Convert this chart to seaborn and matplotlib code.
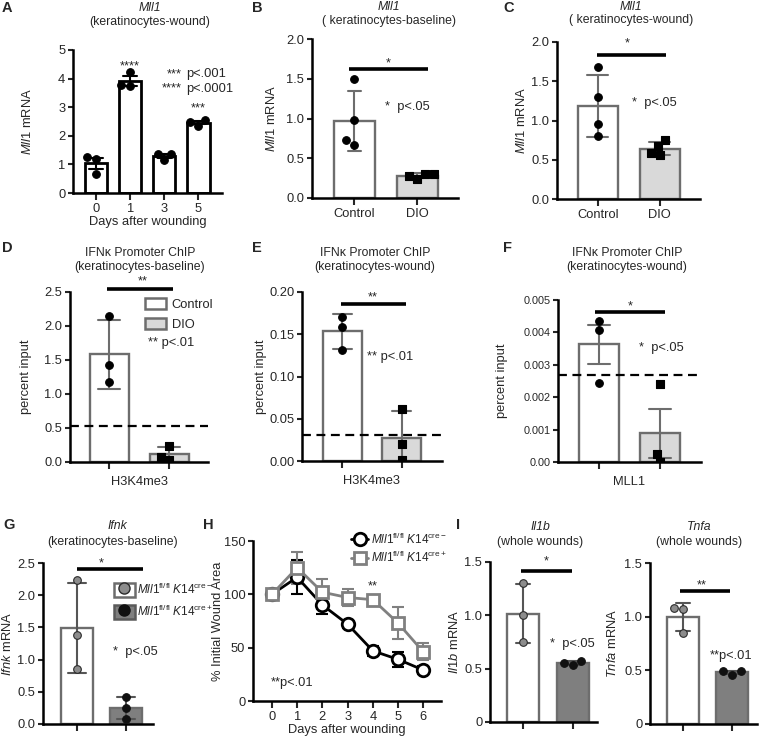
import numpy as np
import pandas as pd
import matplotlib
matplotlib.use("Agg")
import matplotlib.pyplot as plt
import matplotlib.transforms as mtransforms
from matplotlib.patches import Patch
from matplotlib.lines import Line2D
from matplotlib.legend_handler import HandlerTuple
import seaborn as sns

# ---------------- data ----------------
a_days = ["0", "1", "3", "5"]
a_values = [[1.26, 1.20, 0.65], [4.24, 3.74, 3.76], [1.15, 1.36, 1.36], [2.34, 2.55, 2.49]]
a_stars = ["", "****", "", "***"]

groups = ["Control", "DIO"]
b_control = [1.50, 0.98, 0.67, 0.73]
b_dio = [0.24, 0.30, 0.28, 0.30]
c_control = [1.68, 1.30, 0.95, 0.80]
c_dio = [0.75, 0.67, 0.56, 0.59]
d_control = [2.15, 1.43, 1.17]
d_dio = [0.24, 0.03, 0.08]
d_cutoff = 0.53
e_control = [0.171, 0.158, 0.131]
e_dio = [0.062, 0.020, 0.001]
e_cutoff = 0.031
f_control = [0.00435, 0.00408, 0.00245]
f_dio = [0.0024, 0.00025, 0.0]
f_cutoff = 0.0027

genotypes = ["cre-", "cre+"]
g_neg = [2.23, 1.38, 0.85]
g_pos = [0.42, 0.25, 0.08]
il1b_neg = [1.30, 1.00, 0.75]
il1b_pos = [0.57, 0.53, 0.55]
tnfa_neg = [1.08, 1.07, 0.85]
tnfa_pos = [0.46, 0.49, 0.49]

h_days = [0, 1, 2, 3, 4, 5, 6]
h_neg_mean = [100, 116, 90, 72, 47, 39, 29]
h_neg_err = [0, 16, 8, 4, 5, 7, 4]
h_pos_mean = [100, 125, 102, 97, 95, 73, 46]
h_pos_err = [0, 15, 12, 8, 3, 15, 8]

a_yticks = [0, 1, 2, 3, 4, 5]
f_yticks = [0, 0.001, 0.002, 0.003, 0.004, 0.005]
f_yticklabels = ["0.00", "0.001", "0.002", "0.003", "0.004", "0.005"]
i_yticks = [0, 0.5, 1.0, 1.5]
i_yticklabels = ["0", "0.5", "1.0", "1.5"]
h_yticks = [0, 50, 100, 150]

lbl_neg = r"$\mathit{Mll1}^{\mathrm{fl/fl}}\ \mathit{K14}^{\mathrm{cre-}}$"
lbl_pos = r"$\mathit{Mll1}^{\mathrm{fl/fl}}\ \mathit{K14}^{\mathrm{cre+}}$"

# ---------------- style ----------------
sns.set_style("ticks")
plt.rcParams["font.family"] = ["Liberation Sans", "DejaVu Sans"]
plt.rcParams["mathtext.fontset"] = "custom"
plt.rcParams["mathtext.rm"] = "Liberation Sans"
plt.rcParams["mathtext.it"] = "Liberation Sans:italic"
plt.rcParams["font.size"] = 9

W, H = 764, 736
fig = plt.figure(figsize=(W / 100, H / 100), dpi=100)

EDGE = "#6d6d6d"
LIGHT = "#d9d9d9"
DARK = "#7f7f7f"
FS = 9.3


def add_ax(x0, x1, ytop, ybot):
    return fig.add_axes([x0 / W, 1 - ybot / H, (x1 - x0) / W, (ybot - ytop) / H])


def ftext(x, y, s, **kw):
    kw.setdefault("ha", "center")
    kw.setdefault("va", "center")
    fig.text(x / W, 1 - y / H, s, **kw)


def star(ax, x, y, s, ha="center"):
    # lone asterisks sit high in the glyph box, nudge them down a little
    tr = mtransforms.offset_copy(ax.transData, fig=fig, y=-2, units="points")
    ax.text(x, y, s, ha=ha, va="center", fontsize=FS, transform=tr, clip_on=False)


def note(ax, x, y, s, ha="left"):
    ax.text(x, y, s, ha=ha, va="center", fontsize=FS, clip_on=False)


def style(ax, ylim, yticks, xlim, ylabel, ylabel_x, yticklabels=None, tick_fs=FS):
    ax.set_xlim(*xlim)
    ax.set_ylim(*ylim)
    ax.set_yticks(yticks)
    if yticklabels is not None:
        ax.set_yticklabels(yticklabels)
    for s in ["top", "right"]:
        ax.spines[s].set_visible(False)
    for s in ["left", "bottom"]:
        ax.spines[s].set_linewidth(1.8)
        ax.spines[s].set_color("black")
    ax.tick_params(axis="y", direction="out", length=3.5, width=1.5, labelsize=tick_fs, pad=2)
    ax.tick_params(axis="x", direction="out", length=5, width=1.5, labelsize=FS, pad=2)
    ax.set_ylabel(ylabel, fontsize=FS)
    # place ylabel by its center in pixels
    bb = ax.get_position()
    ax.yaxis.set_label_coords((ylabel_x + 6 - bb.x0 * W) / (bb.width * W), 0.5)
    ax.set_xlabel("")


def bar_panel(ax, names, values, fills, edge, markers, pcolors, pedges,
              errorbar, capsize, errcolor, lw=1.7):
    df = pd.DataFrame({
        "group": np.repeat(names, [len(v) for v in values]),
        "value": np.concatenate(values),
    })
    sns.barplot(data=df, x="group", y="value", hue="group", order=names,
                hue_order=names, palette=dict(zip(names, fills)),
                edgecolor=edge, linewidth=lw, width=0.65, errorbar=errorbar,
                capsize=capsize, err_kws={"color": errcolor, "linewidth": 1.5},
                legend=False, ax=ax)
    for name, m, c, ec in zip(names, markers, pcolors, pedges):
        sns.swarmplot(data=df[df["group"] == name], x="group", y="value",
                      order=names, marker=m, color=c, edgecolor=ec,
                      linewidth=0.8, size=5.5, zorder=3, ax=ax)


def sig(ax, x0, x1, y, stars, ys, xs):
    ax.plot([x0, x1], [y, y], color="black", lw=2.6, solid_capstyle="butt", clip_on=False)
    star(ax, xs, ys, stars)


# ---------------- A ----------------
ax = add_ax(73, 222, 50, 193)
bar_panel(ax, a_days, a_values, ["white"] * 4, "black", ["o"] * 4, ["black"] * 4,
          ["black"] * 4, "se", 0.4, "black", lw=2.0)
style(ax, (0, 5), a_yticks, (-0.68, 3.69), r"$\mathit{Mll1}$ mRNA", 28)
ax.set_xlabel("Days after wounding", fontsize=FS, labelpad=1)
for i, s in enumerate(a_stars):
    if s:
        star(ax, i, np.mean(a_values[i]) + 0.6, s)
note(ax, 2.5, 4.16, "***", ha="right")
note(ax, 2.65, 4.16, "p<.001")
note(ax, 2.5, 3.64, "****", ha="right")
note(ax, 2.65, 3.64, "p<.0001")
ftext(150, 8, "Mll1", style="italic", fontsize=8.8)
ftext(150, 22, "(keratinocytes-wound)", fontsize=8.8)

# ---------------- B ----------------
ax = add_ax(312, 458, 39, 198)
bar_panel(ax, groups, [b_control, b_dio], ["white", LIGHT], EDGE, ["o", "s"],
          ["black", "black"], ["black", "black"], "sd", 0.21, EDGE)
style(ax, (0, 2.0), [0, 0.5, 1.0, 1.5, 2.0], (-0.67, 1.65), r"$\mathit{Mll1}$ mRNA", 272)
sig(ax, -0.08, 1.17, 1.62, "*", 1.73, 0.54)
note(ax, 0.49, 1.14, "*  p<.05")
ftext(389, 7, "Mll1", style="italic", fontsize=8.8)
ftext(389, 21, "( keratinocytes-baseline)", fontsize=8.8)

# ---------------- C ----------------
ax = add_ax(557, 700, 42, 199)
bar_panel(ax, groups, [c_control, c_dio], ["white", LIGHT], EDGE, ["o", "s"],
          ["black", "black"], ["black", "black"], "sd", 0.34, EDGE)
style(ax, (0, 2.0), [0, 0.5, 1.0, 1.5, 2.0], (-0.66, 1.65), r"$\mathit{Mll1}$ mRNA", 522)
sig(ax, -0.02, 1.1, 1.83, "*", 2.02, 0.48)
note(ax, 0.55, 1.22, "*  p<.05")
ftext(631, 7, "Mll1", style="italic", fontsize=8.8)
ftext(631, 20, "( keratinocytes-wound)", fontsize=8.8)

# ---------------- D ----------------
ax = add_ax(70, 208, 292, 462)
bar_panel(ax, groups, [d_control, d_dio], ["white", LIGHT], EDGE, ["o", "s"],
          ["black", "black"], ["black", "black"], "sd", 0.38, EDGE)
style(ax, (0, 2.5), [0, 0.5, 1.0, 1.5, 2.0, 2.5], (-0.65, 1.65), "percent input", 26)
ax.set_xticklabels(["", ""])
ax.set_xlabel("H3K4me3", fontsize=FS, labelpad=3)
ax.axhline(d_cutoff, color="black", lw=1.6, ls=(0, (4, 2.5)))
sig(ax, -0.03, 1.07, 2.54, "**", 2.7, 0.57)
note(ax, 0.65, 1.75, "** p<.01")
ax.legend(handles=[Patch(facecolor="white", edgecolor=EDGE, linewidth=1.8),
                   Patch(facecolor=LIGHT, edgecolor=EDGE, linewidth=1.8)],
          labels=groups, loc="upper left", bbox_to_anchor=(0.54, 0.965),
          frameon=False, handlelength=1.7, handleheight=0.95, labelspacing=0.55,
          handletextpad=0.4, borderpad=0, borderaxespad=0, fontsize=9.3)
ftext(140, 253, "IFNκ Promoter ChIP", fontsize=8.8)
ftext(140, 267, "(keratinocytes-baseline)", fontsize=8.8)

# ---------------- E ----------------
ax = add_ax(302, 442, 292, 461)
bar_panel(ax, groups, [e_control, e_dio], ["white", LIGHT], EDGE, ["o", "s"],
          ["black", "black"], ["black", "black"], "sd", 0.32, EDGE)
style(ax, (0, 0.2), [0, 0.05, 0.10, 0.15, 0.20], (-0.67, 1.67), "percent input", 261)
ax.set_xticklabels(["", ""])
ax.set_xlabel("H3K4me3", fontsize=FS, labelpad=3)
ax.axhline(e_cutoff, color="black", lw=1.6, ls=(0, (4, 2.5)))
sig(ax, -0.02, 1.07, 0.186, "**", 0.197, 0.52)
note(ax, 0.42, 0.123, "** p<.01")
ftext(375, 253, "IFNκ Promoter ChIP", fontsize=8.8)
ftext(375, 267, "(keratinocytes-wound)", fontsize=8.8)

# ---------------- F ----------------
ax = add_ax(558, 701, 300, 462)
bar_panel(ax, groups, [f_control, f_dio], ["white", LIGHT], EDGE, ["o", "s"],
          ["black", "black"], ["black", "black"], "se", 0.36, EDGE)
style(ax, (0, 0.005), f_yticks, (-0.67, 1.67), "percent input", 502,
      yticklabels=f_yticklabels, tick_fs=7.8)
ax.set_xticklabels(["", ""])
ax.set_xlabel("MLL1", fontsize=FS, labelpad=3)
ax.axhline(f_cutoff, color="black", lw=1.6, ls=(0, (4, 2.5)))
sig(ax, -0.07, 1.08, 0.00464, "*", 0.0049, 0.51)
note(ax, 0.66, 0.00352, "*  p<.05")
ftext(627, 253, "IFNκ Promoter ChIP", fontsize=8.8)
ftext(627, 267, "(keratinocytes-wound)", fontsize=8.8)

# ---------------- G ----------------
ax = add_ax(43, 153, 563, 724)
bar_panel(ax, genotypes, [g_neg, g_pos], ["white", DARK], EDGE, ["o", "o"],
          ["#8c8c8c", "#111111"], ["#2b2b2b", "#111111"], "sd", 0.36, "#555555")
style(ax, (0, 2.5), [0, 0.5, 1.0, 1.5, 2.0, 2.5], (-0.69, 1.55), r"$\mathit{Ifnk}$ mRNA", 8)
ax.set_xticklabels(["", ""])
sig(ax, 0.0, 1.35, 2.41, "*", 2.53, 0.5)
note(ax, 0.73, 1.12, "*  p<.05")
h1 = (Patch(facecolor="white", edgecolor=EDGE, linewidth=1.8),
      Line2D([], [], ls="none", marker="o", ms=8, mfc="#8c8c8c", mec="#2b2b2b"))
h2 = (Patch(facecolor=DARK, edgecolor="#5a5a5a", linewidth=1.8),
      Line2D([], [], ls="none", marker="o", ms=8, mfc="#111111", mec="#111111"))
ax.legend(handles=[h1, h2], labels=[lbl_neg, lbl_pos],
          handler_map={tuple: HandlerTuple(ndivide=1)},
          loc="upper left", bbox_to_anchor=(0.645, 0.885), frameon=False,
          handlelength=1.75, handleheight=1.5, labelspacing=0.55, handletextpad=0.2,
          borderpad=0, borderaxespad=0, fontsize=8.5)
ftext(117, 526, "Ifnk", style="italic", fontsize=8.8)
ftext(113, 542, "(keratinocytes-baseline)", fontsize=8.8)

# ---------------- H ----------------
ax = add_ax(253, 441, 541, 701)
ax.errorbar(h_days, h_neg_mean, yerr=h_neg_err, fmt="none", ecolor="black",
            elinewidth=1.5, capsize=4.5, capthick=1.5, zorder=1)
ax.errorbar(h_days, h_pos_mean, yerr=h_pos_err, fmt="none", ecolor="#808080",
            elinewidth=1.5, capsize=4.5, capthick=1.5, zorder=1)
sns.lineplot(x=h_days, y=h_neg_mean, color="black", lw=2, marker="o", ms=9,
             mfc="white", mec="black", mew=2, label=lbl_neg, ax=ax, zorder=2)
sns.lineplot(x=h_days, y=h_pos_mean, color="#808080", lw=2, marker="s", ms=9,
             mfc="white", mec="#808080", mew=2, label=lbl_pos, ax=ax, zorder=3)
style(ax, (0, 150), h_yticks, (-0.75, 6.7), "% Initial Wound Area", 218)
ax.set_xticks(h_days)
ax.set_xticklabels([str(d) for d in h_days])
ax.set_xlabel("Days after wounding", fontsize=FS, labelpad=1)
star(ax, 4, 110, "**")
note(ax, -0.05, 17, "**p<.01")
ax.legend(loc="upper left", bbox_to_anchor=(0.52, 1.06), frameon=False,
          handlelength=1.5, labelspacing=0.25, handletextpad=0.25,
          borderpad=0, borderaxespad=0, fontsize=8.5)

# ---------------- I (Il1b) ----------------
ax = add_ax(490, 597, 562, 722)
bar_panel(ax, genotypes, [il1b_neg, il1b_pos], ["white", DARK], EDGE, ["o", "o"],
          ["#8c8c8c", "#111111"], ["#2b2b2b", "#111111"], "sd", 0.27, "#555555")
style(ax, (0, 1.5), i_yticks, (-0.66, 1.48), r"$\mathit{Il1b}$ mRNA", 455,
      yticklabels=i_yticklabels)
ax.set_xticklabels(["", ""])
sig(ax, -0.04, 0.98, 1.42, "*", 1.53, 0.46)
note(ax, 0.54, 0.73, "*  p<.05")
ftext(540, 527, "Il1b", style="italic", fontsize=8.8)
ftext(540, 542, "(whole wounds)", fontsize=8.8)

# ---------------- I (Tnfa) ----------------
ax = add_ax(650, 757, 563, 724)
bar_panel(ax, genotypes, [tnfa_neg, tnfa_pos], ["white", DARK], EDGE, ["o", "o"],
          ["#8c8c8c", "#111111"], ["#2b2b2b", "#111111"], "sd", 0.27, "#555555")
style(ax, (0, 1.5), i_yticks, (-0.67, 1.51), r"$\mathit{Tnfa}$ mRNA", 613,
      yticklabels=i_yticklabels)
ax.set_xticklabels(["", ""])
sig(ax, -0.06, 0.96, 1.24, "**", 1.32, 0.39)
note(ax, 0.55, 0.63, "**p<.01")
ftext(699, 527, "Tnfa", style="italic", fontsize=8.8)
ftext(699, 542, "(whole wounds)", fontsize=8.8)

# ---------------- panel letters ----------------
for letter, x, y in [("A", 2, 8), ("B", 252, 8), ("C", 503, 8),
                     ("D", 2, 248), ("E", 252, 248), ("F", 503, 248),
                     ("G", 3, 525), ("H", 203, 525), ("I", 456, 525)]:
    ftext(x, y, letter, ha="left", fontsize=10.5, fontweight="bold")

fig.savefig("out.png", dpi=100)
